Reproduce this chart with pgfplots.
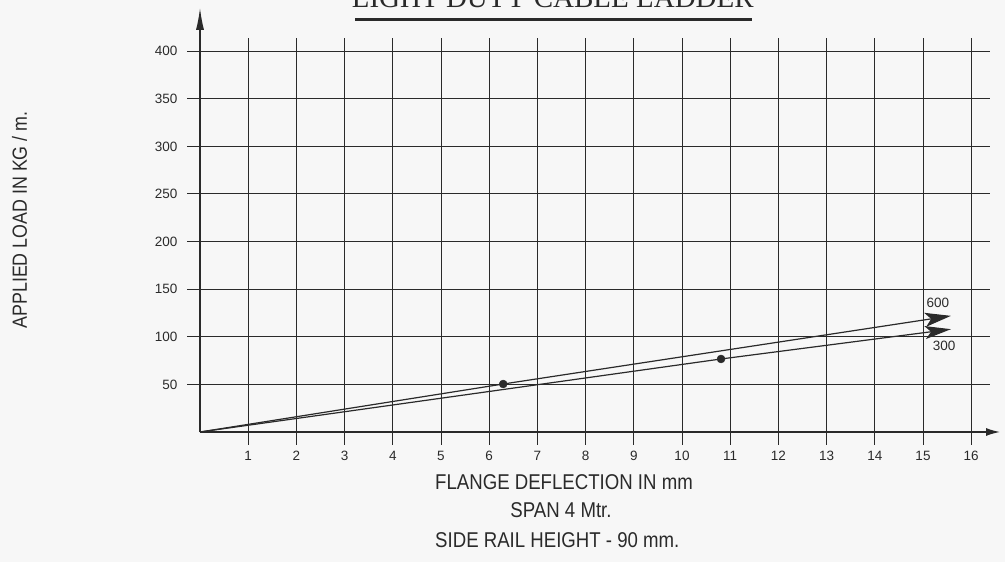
\documentclass[border=0pt]{standalone}
\usepackage{fontspec}
\setmainfont{Liberation Sans}[FakeStretch=0.87]
\newfontfamily\tickfont{Liberation Sans}
\newfontfamily\titlefont{Liberation Serif}
\usepackage{pgfplots}
\pgfplotsset{compat=1.18}
\usetikzlibrary{arrows.meta}
\definecolor{ink}{HTML}{2A2A2A}
\definecolor{bg}{HTML}{F7F7F7}
\begin{document}
\begin{tikzpicture}
\useasboundingbox[fill=bg] (0,0) rectangle (1005pt,562pt);
\begin{axis}[
  anchor=origin, at={(200pt,130pt)},
  x=48.2pt, y=0.952pt,
  xmin=0, xmax=16.39, ymin=0, ymax=414,
  axis x line=bottom, axis y line=left,
  x axis line style={ink, line width=1.3pt, -{Latex[length=14pt,width=8pt]}, shorten >=-10pt},
  y axis line style={ink, line width=1.3pt, -{Latex[length=22pt,width=8pt]}, shorten >=-30pt},
  xtick={1,2,...,16}, ytick={50,100,...,400},
  tick align=outside, major tick length=13pt,
  tick style={ink, line width=1pt},
  grid=major, major grid style={ink, line width=1pt},
  /pgf/number format/assume math mode=true,
  ticklabel style={font=\tickfont\fontsize{13.5}{15}\selectfont, text=ink},
  xticklabel style={yshift=-3pt},
  yticklabel style={xshift=-6pt},
  clip=false,
]
% 600 line (upper)
\addplot[ink, line width=1.2pt, -{Stealth[length=26pt,width=14pt,inset=6pt]}] coordinates {(0,0) (6.29,50.4) (15.58,122)};
% 300 line (lower)
\addplot[ink, line width=1.2pt, -{Stealth[length=26pt,width=13pt,inset=6pt]}] coordinates {(0,0) (10.81,76.7) (15.58,108)};
% points
\addplot[only marks, mark=*, mark size=4pt, ink] coordinates {(6.29,50.4) (10.81,76.7)};
\node[font=\tickfont\fontsize{13.5}{15}\selectfont, text=ink] at (axis cs:15.31,135.5) {600};
\node[font=\tickfont\fontsize{13.5}{15}\selectfont, text=ink] at (axis cs:15.44,90.3) {300};
% title
\node[font=\titlefont\fontsize{29}{30}\selectfont, text=ink, anchor=base, inner sep=0pt] at (axis cs:7.32,445.4) {LIGHT DUTY CABLE LADDER};
\draw[ink, line width=2.5pt] (axis cs:3.216,433.3) -- (axis cs:11.45,433.3);
% axis labels
\node[font=\fontsize{21.4}{22}\selectfont, text=ink, anchor=base west, inner sep=0pt] at (axis cs:4.876,-60.9) {FLANGE DEFLECTION IN mm};
\node[font=\fontsize{21.4}{22}\selectfont, text=ink, anchor=base, inner sep=0pt] at (axis cs:7.49,-90.3) {SPAN 4 Mtr.};
\node[font=\fontsize{21.4}{22}\selectfont, text=ink, anchor=base west, inner sep=0pt] at (axis cs:4.876,-121.8) {SIDE RAIL HEIGHT - 90 mm.};
\node[font=\fontsize{20.5}{22}\selectfont, text=ink, rotate=90, anchor=base, inner sep=0pt] at (axis cs:-3.59,222.7) {APPLIED LOAD IN KG / m.};
\end{axis}
\end{tikzpicture}
\end{document}
